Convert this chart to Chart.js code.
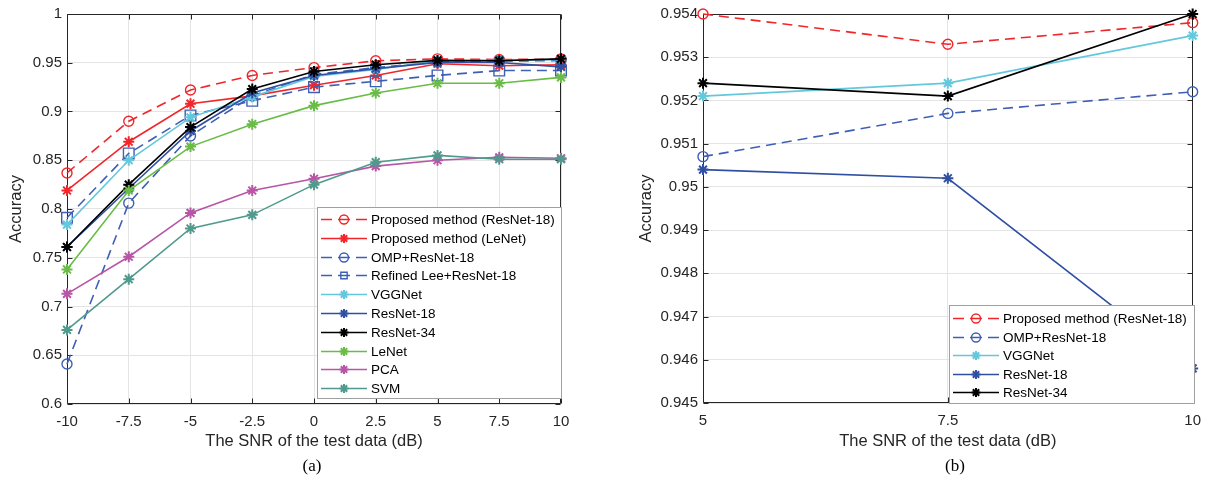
<!DOCTYPE html>
<html><head><meta charset="utf-8">
<script src="https://cdn.jsdelivr.net/npm/chart.js@4.4.1/dist/chart.umd.min.js"></script>
<style>
html,body{margin:0;padding:0;background:#fff;width:1210px;height:480px;overflow:hidden}
#wrap{position:relative;width:1210px;height:480px}
canvas{position:absolute;top:0}
.cap{position:absolute;font-family:"Liberation Serif","Times New Roman",serif;font-size:17px;color:#000;transform:translateX(-50%);line-height:20px}
</style></head><body>
<div id="wrap">
<canvas id="ca" width="600" height="480" style="left:0"></canvas>
<canvas id="cb" width="605" height="480" style="left:605px"></canvas>
<div class="cap" style="left:312px;top:456px">(a)</div>
<div class="cap" style="left:955px;top:456px">(b)</div>
</div>
<script>
// ---------- data: panel (a) ----------
const snrA = [-10, -7.5, -5, -2.5, 0, 2.5, 5, 7.5, 10];
const proposedResNet18A = [0.837, 0.890, 0.922, 0.937, 0.945, 0.952, 0.9540, 0.9533, 0.9538];
const proposedLeNetA    = [0.819, 0.869, 0.908, 0.916, 0.927, 0.937, 0.949, 0.947, 0.948];
const ompResNet18A      = [0.641, 0.806, 0.875, 0.916, 0.938, 0.945, 0.9507, 0.9517, 0.9522];
const refinedLeeA       = [0.791, 0.857, 0.896, 0.911, 0.925, 0.931, 0.937, 0.942, 0.942];
const vggNetA           = [0.784, 0.850, 0.894, 0.915, 0.936, 0.943, 0.9521, 0.9524, 0.9535];
const resNet18A         = [0.761, 0.821, 0.880, 0.919, 0.937, 0.944, 0.9504, 0.9502, 0.9458];
const resNet34A         = [0.761, 0.825, 0.884, 0.923, 0.941, 0.948, 0.9524, 0.9521, 0.9540];
const leNetA            = [0.738, 0.819, 0.864, 0.887, 0.906, 0.919, 0.929, 0.929, 0.935];
const pcaA              = [0.713, 0.751, 0.796, 0.819, 0.831, 0.844, 0.850, 0.853, 0.852];
const svmA              = [0.676, 0.728, 0.780, 0.794, 0.825, 0.848, 0.855, 0.851, 0.851];

// ---------- data: panel (b) ----------
const snrB = [5, 7.5, 10];
const proposedResNet18B = [0.9540, 0.9533, 0.9538];
const ompResNet18B      = [0.9507, 0.9517, 0.9522];
const vggNetB           = [0.9521, 0.9524, 0.9535];
const resNet18B         = [0.9504, 0.9502, 0.9458];
const resNet34B         = [0.9524, 0.9521, 0.9540];

// ---------- tick definitions ----------
const xTicksA = { min: -10, max: 10, step: 2.5 };
const yTicksA = { min: 0.6, max: 1, step: 0.05 };
const xTicksB = { min: 5, max: 10, step: 2.5 };
const yTicksB = { min: 0.945, max: 0.954, step: 0.001 };

const xLabel = 'The SNR of the test data (dB)';
const yLabel = 'Accuracy';

// ---------- styles ----------
const FONT = '"Liberation Sans", Arial, Helvetica, sans-serif';
const TXT = '#262626';
const C = {
  red: '#f0262b', blueD: '#3f5fb4', cyan: '#64c8dc', blue: '#2f4fa3',
  black: '#000000', green: '#69bc45', magenta: '#b855a6', teal: '#4f9a8d'
};
const DASH = [10, 6];

const seriesA = [
  { label: 'Proposed method (ResNet-18)', data: proposedResNet18A, color: C.red, dash: DASH, marker: 'circle' },
  { label: 'Proposed method (LeNet)', data: proposedLeNetA, color: C.red, marker: 'star' },
  { label: 'OMP+ResNet-18', data: ompResNet18A, color: C.blueD, dash: DASH, marker: 'circle' },
  { label: 'Refined Lee+ResNet-18', data: refinedLeeA, color: C.blueD, dash: DASH, marker: 'rect' },
  { label: 'VGGNet', data: vggNetA, color: C.cyan, marker: 'star' },
  { label: 'ResNet-18', data: resNet18A, color: C.blue, marker: 'star' },
  { label: 'ResNet-34', data: resNet34A, color: C.black, marker: 'star' },
  { label: 'LeNet', data: leNetA, color: C.green, marker: 'star' },
  { label: 'PCA', data: pcaA, color: C.magenta, marker: 'star' },
  { label: 'SVM', data: svmA, color: C.teal, marker: 'star' }
];
const seriesB = [
  { label: 'Proposed method (ResNet-18)', data: proposedResNet18B, color: C.red, dash: DASH, marker: 'circle' },
  { label: 'OMP+ResNet-18', data: ompResNet18B, color: C.blueD, dash: DASH, marker: 'circle' },
  { label: 'VGGNet', data: vggNetB, color: C.cyan, marker: 'star' },
  { label: 'ResNet-18', data: resNet18B, color: C.blue, marker: 'star' },
  { label: 'ResNet-34', data: resNet34B, color: C.black, marker: 'star' }
];

function makeDatasets(series, xs) {
  return series.map((s, i) => ({
    label: s.label,
    data: xs.map((x, j) => ({ x: x, y: s.data[j] })),
    borderColor: s.color,
    backgroundColor: 'rgba(0,0,0,0)',
    borderWidth: 1.6,
    borderDash: s.dash || [],
    pointStyle: s.marker,
    pointRadius: s.marker === 'rect' ? 7.5 : (s.marker === 'circle' ? 5 : 5.5),
    pointHoverRadius: 5,
    pointBorderWidth: s.marker === 'star' ? 2 : 1.4,
    pointBorderColor: s.color,
    pointBackgroundColor: 'rgba(0,0,0,0)',
    tension: 0,
    clip: false,
    order: -i
  }));
}

function fmt(v) { return String(Number(Number(v).toFixed(6))); }

// MATLAB-like box with inward ticks on all four sides
const boxPlugin = {
  id: 'matlabBox',
  beforeDatasetsDraw(chart) {
    const { ctx, chartArea: a, scales } = chart;
    const x = scales.x, y = scales.y, L = 5;
    ctx.save();
    ctx.strokeStyle = TXT;
    ctx.lineWidth = 1;
    ctx.setLineDash([]);
    const l = Math.round(a.left) + 0.5, r = Math.round(a.right) - 0.5;
    const t = Math.round(a.top) + 0.5, b = Math.round(a.bottom) - 0.5;
    ctx.beginPath();
    ctx.rect(l, t, r - l, b - t);
    ctx.stroke();
    ctx.beginPath();
    x.ticks.forEach(tk => {
      const p = Math.round(x.getPixelForValue(tk.value)) + 0.5;
      ctx.moveTo(p, b); ctx.lineTo(p, b - L);
      ctx.moveTo(p, t); ctx.lineTo(p, t + L);
    });
    y.ticks.forEach(tk => {
      const p = Math.round(y.getPixelForValue(tk.value)) + 0.5;
      ctx.moveTo(l, p); ctx.lineTo(l + L, p);
      ctx.moveTo(r, p); ctx.lineTo(r - L, p);
    });
    ctx.stroke();
    ctx.restore();
  }
};

// Boxed legend drawn inside the plot area
const boxLegend = {
  id: 'boxLegend',
  afterDraw(chart, args, o) {
    if (!o || !o.w) return;
    const ctx = chart.ctx;
    ctx.save();
    ctx.fillStyle = '#ffffff';
    ctx.fillRect(o.x, o.y, o.w, o.h);
    ctx.strokeStyle = '#a0a0a0';
    ctx.lineWidth = 1;
    ctx.strokeRect(o.x + 0.5, o.y + 0.5, o.w, o.h);
    ctx.font = '13.5px ' + FONT;
    ctx.textBaseline = 'middle';
    ctx.textAlign = 'left';
    chart.data.datasets.forEach((ds, i) => {
      const cy = Math.round(o.rowY + i * o.rowH) + 0.5;
      const cx = (o.lineX0 + o.lineX1) / 2;
      ctx.strokeStyle = ds.borderColor;
      ctx.lineWidth = ds.borderWidth;
      if (ds.borderDash.length) {
        ctx.setLineDash([]);
        ctx.beginPath();
        ctx.moveTo(o.lineX0, cy); ctx.lineTo(o.lineX0 + 11, cy);
        ctx.moveTo(o.lineX1 - 11, cy); ctx.lineTo(o.lineX1, cy);
        ctx.moveTo(cx - 6, cy); ctx.lineTo(cx + 6, cy);
        ctx.stroke();
      } else {
        ctx.setLineDash([]);
        ctx.beginPath();
        ctx.moveTo(o.lineX0, cy); ctx.lineTo(o.lineX1, cy);
        ctx.stroke();
      }
      ctx.fillStyle = 'rgba(0,0,0,0)';
      ctx.lineWidth = ds.pointBorderWidth;
      Chart.helpers.drawPoint(ctx, { pointStyle: ds.pointStyle, radius: ds.pointStyle === 'circle' ? 4.5 : 4.5, borderWidth: ds.pointBorderWidth, rotation: 0 }, cx, cy);
      ctx.fillStyle = '#000';
      ctx.fillText(ds.label, o.textX, cy + 1);
    });
    ctx.restore();
  }
};

function makeChart(id, series, xs, xt, yt, axisW, pad, titlePadY, legendOpts) {
  return new Chart(document.getElementById(id), {
    type: 'line',
    data: { datasets: makeDatasets(series, xs) },
    plugins: [boxPlugin, boxLegend],
    options: {
      responsive: false,
      animation: false,
      devicePixelRatio: 1,
      layout: { padding: pad },
      plugins: {
        legend: { display: false },
        tooltip: { enabled: false },
        boxLegend: legendOpts
      },
      scales: {
        x: {
          type: 'linear', min: xt.min, max: xt.max,
          afterFit(s) { s.height = 480 - (480 - pad.bottomArea); },
          grid: { color: '#e4e4e4', lineWidth: 1, drawTicks: false },
          border: { display: false },
          ticks: { stepSize: xt.step, autoSkip: false, maxRotation: 0, padding: 9, color: TXT,
                   font: { family: FONT, size: 15 }, callback: v => fmt(v) },
          title: { display: true, text: xLabel, color: TXT, font: { family: FONT, size: 16.5 },
                   padding: { top: 0, bottom: 29 } }
        },
        y: {
          type: 'linear', min: yt.min, max: yt.max,
          afterFit(s) { s.width = axisW; },
          grid: { color: '#e4e4e4', lineWidth: 1, drawTicks: false },
          border: { display: false },
          ticks: { stepSize: yt.step, autoSkip: false, padding: 5, color: TXT,
                   font: { family: FONT, size: 15 }, callback: v => fmt(v) },
          title: { display: true, text: yLabel, color: TXT, font: { family: FONT, size: 16.5 },
                   padding: { top: titlePadY, bottom: 0 } }
        }
      }
    }
  });
}

// x-axis height fix helper: plot bottom at given pixel
function chartA() {
  const pad = { left: 0, top: 12, right: 39, bottom: 0 };
  const c = makeChart('ca', seriesA, snrA, xTicksA, yTicksA, 67, pad, 7,
    { x: 317, y: 207, w: 244, h: 191, rowY: 219, rowH: 18.8, lineX0: 321, lineX1: 367, textX: 371 });
  return c;
}
function chartB() {
  const pad = { left: 0, top: 12, right: 12, bottom: 0 };
  const c = makeChart('cb', seriesB, snrB, xTicksB, yTicksB, 98, pad, 32,
    { x: 344, y: 305, w: 245, h: 98, rowY: 318, rowH: 18.6, lineX0: 348, lineX1: 394, textX: 398 });
  return c;
}
// set x-axis heights so plot bottoms sit at 404 / 403
Chart.defaults.font.family = FONT;
const xHeights = { ca: 76, cb: 77 };
Chart.register({
  id: 'fixX',
  beforeInit(chart) {
    const h = xHeights[chart.canvas.id];
    chart.options.scales.x.afterFit = function (s) { s.height = h; };
  }
});
chartA();
chartB();
</script>
</body></html>
